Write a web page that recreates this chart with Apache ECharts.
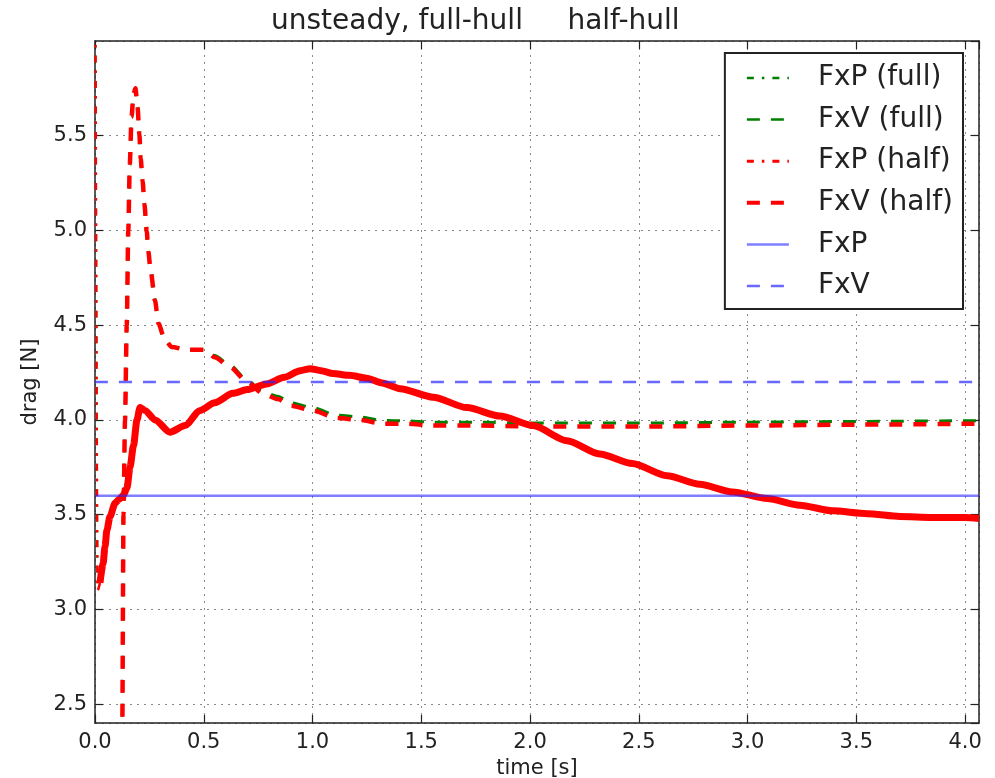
<!DOCTYPE html>
<html>
<head>
<meta charset="utf-8">
<script src="https://cdn.jsdelivr.net/npm/echarts@6/dist/echarts.min.js"></script>
<style>
  html, body { margin: 0; padding: 0; background: #fff; }
  #chart { width: 995px; height: 778px; }
</style>
</head>
<body>
<div id="chart"></div>
<script>
// Pressure drag samples (time in s, force in N)
const timeP = [0.0, 0.012, 0.023, 0.037, 0.046, 0.055, 0.069, 0.092, 0.110, 0.129, 0.147, 0.161, 0.177, 0.193, 0.207, 0.23, 0.276, 0.345, 0.414, 0.483, 0.55, 0.634, 0.70, 0.789, 0.87, 0.943, 0.989, 1.04, 1.094, 1.17, 1.249, 1.32, 1.402, 1.554, 1.709, 1.862, 2.014, 2.17, 2.32, 2.47, 2.63, 2.78, 2.93, 3.09, 3.24, 3.39, 3.55, 3.70, 3.85, 4.0, 4.064];
const fxpHalf = [7.0, 3.10, 3.14, 3.24, 3.33, 3.42, 3.49, 3.56, 3.58, 3.60, 3.64, 3.75, 3.865, 4.0, 4.066, 4.05, 4.0, 3.935, 3.97, 4.05, 4.09, 4.14, 4.16, 4.19, 4.225, 4.26, 4.27, 4.26, 4.245, 4.235, 4.22, 4.195, 4.165, 4.12, 4.065, 4.02, 3.97, 3.89, 3.82, 3.77, 3.705, 3.66, 3.62, 3.585, 3.55, 3.52, 3.505, 3.49, 3.485, 3.485, 3.48];
const fxpFull = [7.0, 3.12, 3.17, 3.28, 3.37, 3.45, 3.51, 3.57, 3.59, 3.62, 3.68, 3.79, 3.9, 4.02, 4.07, 4.05, 4.0, 3.935, 3.97, 4.05, 4.09, 4.14, 4.16, 4.19, 4.225, 4.26, 4.27, 4.26, 4.245, 4.235, 4.22, 4.195, 4.165, 4.12, 4.065, 4.02, 3.97, 3.89, 3.82, 3.77, 3.705, 3.66, 3.62, 3.585, 3.55, 3.52, 3.505, 3.49, 3.485, 3.485, 3.48];

// Viscous drag samples
const timeV = [0.122, 0.125, 0.131, 0.138, 0.146, 0.153, 0.160, 0.168, 0.177, 0.186, 0.196, 0.204, 0.210, 0.219, 0.227, 0.238, 0.245, 0.256, 0.276, 0.291, 0.322, 0.353, 0.42, 0.506, 0.55, 0.62, 0.70, 0.77, 0.84, 0.90, 1.0, 1.11, 1.22, 1.32, 1.43, 1.55, 1.76, 2.0, 2.5, 3.0, 3.5, 4.064];
const fxvHalf = [1.8, 2.3, 3.5, 4.0, 4.5, 5.0, 5.35, 5.6, 5.72, 5.75, 5.645, 5.507, 5.38, 5.26, 5.14, 4.995, 4.89, 4.785, 4.63, 4.51, 4.42, 4.385, 4.37, 4.37, 4.33, 4.28, 4.20, 4.14, 4.11, 4.075, 4.05, 4.01, 4.0, 3.98, 3.98, 3.97, 3.97, 3.965, 3.965, 3.97, 3.975, 3.98];
const fxvFull = [1.8, 2.3, 3.5, 4.0, 4.5, 5.0, 5.35, 5.6, 5.72, 5.75, 5.645, 5.507, 5.38, 5.26, 5.14, 4.995, 4.89, 4.785, 4.63, 4.51, 4.42, 4.385, 4.37, 4.37, 4.34, 4.29, 4.21, 4.15, 4.125, 4.09, 4.065, 4.025, 4.015, 3.997, 3.995, 3.988, 3.988, 3.983, 3.983, 3.988, 3.992, 3.996];

// Steady reference values
const timeRef = [0.0, 4.064];
const fxpSteady = [3.6, 3.6];
const fxvSteady = [4.2, 4.2];

const xTicks = [0.0, 0.5, 1.0, 1.5, 2.0, 2.5, 3.0, 3.5, 4.0];
const yTicks = [2.5, 3.0, 3.5, 4.0, 4.5, 5.0, 5.5];

const zip = (t, v) => t.map((x, i) => [x, v[i]]);

const FONT = 'DejaVu Sans';
const INK = '#222';
const DASH = [13, 11];
const DASHDOT = [7, 8, 2.5, 8];

// The start-up transient of the half-hull pressure drag is sparse and drawn thin;
// the remaining, densely sampled part is drawn as a heavy band.
const SPLIT = 3;

const chart = echarts.init(document.getElementById('chart'), null, { renderer: 'canvas' });

const gridLine = { show: true, lineStyle: { color: '#8a8a8a', width: 1, type: [2, 5] } };
const frameLine = { show: true, onZero: false, lineStyle: { color: INK, width: 1.5 } };
const innerTick = { show: true, inside: true, length: 8, lineStyle: { color: INK, width: 1.2 } };

function lineSeries(name, data, color, width, type, z) {
  return {
    name, type: 'line', data, showSymbol: false, symbol: 'none',
    smooth: 0.25, smoothMonotone: 'x', clip: true, z,
    lineStyle: { color, width, type },
    itemStyle: { color },
    emphasis: { disabled: true },
    animation: false
  };
}

const hidden = { color: 'rgba(0,0,0,0)', borderColor: 'rgba(0,0,0,0)', borderWidth: 0, opacity: 0 };

chart.setOption({
  animation: false,
  title: {
    text: 'unsteady, full-hull     half-hull',
    left: 266, top: 3,
    textStyle: { fontFamily: FONT, fontSize: 28, fontWeight: 'normal', color: INK }
  },
  grid: { left: 95, right: 16, top: 41, bottom: 55, containLabel: false, outerBoundsMode: 'none' },
  legend: {
    orient: 'vertical', right: 32, top: 53,
    padding: [11, 10, 9, 20], itemGap: 13.6, itemWidth: 42, itemHeight: 14,
    backgroundColor: '#fff', borderColor: '#222', borderWidth: 2,
    itemStyle: hidden,
    textStyle: { fontFamily: FONT, fontSize: 28, color: INK, padding: [0, 0, 0, 24], lineHeight: 28 },
    data: [
      { name: 'FxP (full)', itemStyle: hidden, lineStyle: { color: '#008000', width: 2.5, type: DASHDOT } },
      { name: 'FxV (full)', itemStyle: hidden, lineStyle: { color: '#008000', width: 2.5, type: DASH } },
      { name: 'FxP (half)', itemStyle: hidden, lineStyle: { color: '#ff0000', width: 3, type: DASHDOT } },
      { name: 'FxV (half)', itemStyle: hidden, lineStyle: { color: '#ff0000', width: 4, type: DASH } },
      { name: 'FxP', itemStyle: hidden, lineStyle: { color: 'rgba(40,40,255,0.6)', width: 2.5, type: 'solid' } },
      { name: 'FxV', itemStyle: hidden, lineStyle: { color: 'rgba(40,40,255,0.7)', width: 2.5, type: DASH } }
    ]
  },
  xAxis: [{
    type: 'value', min: 0, max: 4.064, interval: 0.5,
    name: 'time [s]', nameLocation: 'middle', nameGap: 35,
    nameTextStyle: { fontFamily: FONT, fontSize: 21, color: INK },
    axisLine: frameLine, axisTick: innerTick, splitLine: gridLine,
    axisLabel: {
      fontFamily: FONT, fontSize: 21, color: INK, margin: 9,
      showMaxLabel: false,
      formatter: v => xTicks.some(t => Math.abs(t - v) < 1e-6) ? v.toFixed(1) : ''
    }
  }, {
    type: 'value', position: 'top', min: 0, max: 4.064, interval: 0.5,
    axisLine: frameLine, axisTick: innerTick, splitLine: { show: false },
    axisLabel: { show: false }
  }],
  yAxis: [{
    type: 'value', min: 2.4, max: 6.0, splitNumber: 7,
    name: 'drag [N]', nameLocation: 'middle', nameGap: 54,
    nameTextStyle: { fontFamily: FONT, fontSize: 21, color: INK },
    axisLine: frameLine, axisTick: innerTick, splitLine: gridLine,
    axisLabel: {
      fontFamily: FONT, fontSize: 21, color: INK, margin: 8,
      showMinLabel: false, showMaxLabel: false,
      formatter: v => yTicks.some(t => Math.abs(t - v) < 1e-6) ? v.toFixed(1) : ''
    }
  }, {
    type: 'value', position: 'right', min: 2.4, max: 6.0, splitNumber: 7,
    axisLine: frameLine, axisTick: innerTick, splitLine: { show: false },
    axisLabel: { show: false }
  }],
  series: [
    lineSeries('FxP (full)', zip(timeP, fxpFull), '#008000', 2, DASHDOT, 2),
    lineSeries('FxV (full)', zip(timeV, fxvFull), '#008000', 3, DASH, 3),
    lineSeries('FxP (half)', zip(timeP.slice(0, SPLIT), fxpHalf.slice(0, SPLIT)), '#ff0000', 2.5, DASHDOT, 4),
    lineSeries('FxP (half)', zip(timeP.slice(SPLIT - 1), fxpHalf.slice(SPLIT - 1)), '#ff0000', 7, 'solid', 4),
    lineSeries('FxV (half)', zip(timeV, fxvHalf), '#ff0000', 4.5, DASH, 5),
    lineSeries('FxP', zip(timeRef, fxpSteady), 'rgba(40,40,255,0.6)', 2.5, 'solid', 6),
    lineSeries('FxV', zip(timeRef, fxvSteady), 'rgba(40,40,255,0.7)', 2.5, DASH, 6)
  ]
});
</script>
</body>
</html>
